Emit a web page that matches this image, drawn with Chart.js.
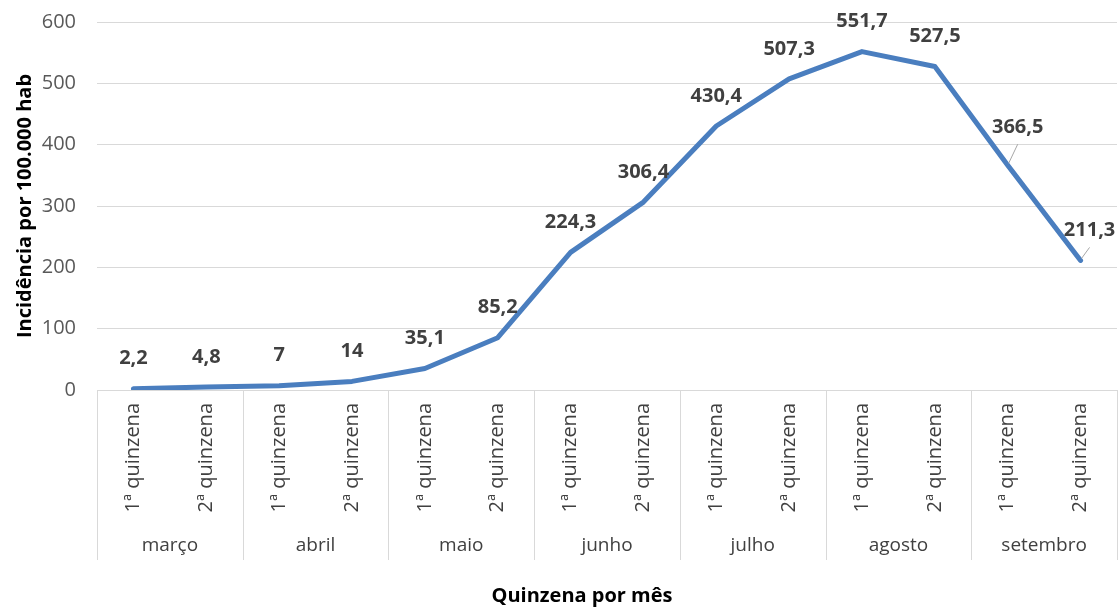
<!DOCTYPE html>
<html>
<head>
<meta charset="utf-8">
<script src="https://cdn.jsdelivr.net/npm/chart.js@4.4.1/dist/chart.umd.min.js"></script>
<style>
  html, body { margin: 0; padding: 0; background: #fff; }
  #wrap { width: 1119px; height: 607px; position: relative; }
</style>
</head>
<body>
<div id="wrap"><canvas id="chart"></canvas></div>
<script>
// ─── Data ────────────────────────────────────────────────────────
const months = ['março', 'abril', 'maio', 'junho', 'julho', 'agosto', 'setembro'];
const halves = ['1ª quinzena', '2ª quinzena'];
const incidence = [2.2, 4.8, 7, 14, 35.1, 85.2, 224.3, 306.4, 430.4, 507.3, 551.7, 527.5, 366.5, 211.3];
const yMin = 0, yMax = 600, yStep = 100;

const yTitle = 'Incidência por 100.000 hab';
const xTitle = 'Quinzena por mês';

// category labels: [quinzena, mês]
const labels = [];
months.forEach(m => halves.forEach(h => labels.push([h, m])));

// ─── Styles ──────────────────────────────────────────────────────
const FONT = '"Open Sans", "Liberation Sans", sans-serif';
const GRID = '#d9d9d9';
const TICK = '#595959';
const LABEL = '#404040';

// labels moved off the line, with a leader line back to the point
const nudges = { 12: { dx: 10, dy: -8 }, 13: { dx: 9, dy: 0 } };

const valueLabels = {
  id: 'valueLabels',
  afterDatasetsDraw(chart) {
    const ctx = chart.ctx;
    const meta = chart.getDatasetMeta(0);
    ctx.save();
    ctx.font = 'bold 20px ' + FONT;
    ctx.fillStyle = LABEL;
    ctx.textAlign = 'center';
    ctx.textBaseline = 'middle';
    meta.data.forEach((pt, i) => {
      const n = nudges[i] || { dx: 0, dy: 0 };
      const lx = pt.x + n.dx, ly = pt.y - 30 + n.dy;
      if (nudges[i]) {
        ctx.strokeStyle = '#a6a6a6';
        ctx.lineWidth = 1;
        ctx.beginPath();
        ctx.moveTo(lx, ly + 17);
        ctx.lineTo(pt.x + 1, pt.y - 2);
        ctx.stroke();
      }
      ctx.fillText(String(incidence[i]).replace('.', ','), lx, ly);
    });
    ctx.restore();
  }
};

// two-level category axis drawn by hand
const groupAxis = {
  id: 'groupAxis',
  afterDraw(chart) {
    const ctx = chart.ctx;
    const x = chart.scales.x;
    const area = chart.chartArea;
    const half = (x.getPixelForValue(1) - x.getPixelForValue(0)) / 2;
    ctx.save();

    // separators
    ctx.strokeStyle = GRID;
    ctx.lineWidth = 1;
    for (let m = 0; m <= months.length; m++) {
      const px = Math.round(x.getPixelForValue(m * halves.length) - half) + 0.5;
      ctx.beginPath();
      ctx.moveTo(px, area.bottom);
      ctx.lineTo(px, 560);
      ctx.stroke();
    }

    // quinzena labels (rotated)
    ctx.fillStyle = LABEL;
    ctx.font = '20px ' + FONT;
    ctx.textAlign = 'right';
    ctx.textBaseline = 'middle';
    labels.forEach((l, i) => {
      ctx.save();
      ctx.translate(x.getPixelForValue(i), area.bottom + 13);
      ctx.rotate(-Math.PI / 2);
      ctx.fillText(l[0], 0, 0);
      ctx.restore();
    });

    // month labels
    ctx.textAlign = 'center';
    ctx.font = '19px ' + FONT;
    months.forEach((m, k) => {
      const px = (x.getPixelForValue(k * 2) + x.getPixelForValue(k * 2 + 1)) / 2;
      ctx.fillText(m, px, 546);
    });

    // axis title
    ctx.fillStyle = '#000';
    ctx.font = 'bold 20px ' + FONT;
    ctx.fillText(xTitle, 582, 596);
    ctx.restore();
  }
};

new Chart(document.getElementById('chart'), {
  type: 'line',
  data: {
    labels: labels,
    datasets: [{
      data: incidence,
      borderColor: '#4a7ebf',
      borderWidth: 5,
      borderJoinStyle: 'round',
      borderCapStyle: 'round',
      pointRadius: 0,
      tension: 0,
      fill: false
    }]
  },
  options: {
    responsive: true,
    maintainAspectRatio: false,
    animation: false,
    layout: { padding: { top: 22, right: 2, left: 0, bottom: 0 } },
    plugins: { legend: { display: false }, tooltip: { enabled: false } },
    scales: {
      x: {
        offset: true,
        grid: { display: false },
        border: { display: false },
        ticks: { display: false },
        afterFit: s => { s.height = 217; }
      },
      y: {
        min: yMin,
        max: yMax,
        ticks: {
          stepSize: yStep,
          padding: 21,
          color: TICK,
          font: { family: FONT, size: 20 }
        },
        grid: { color: GRID, lineWidth: 1, drawTicks: false },
        border: { display: false },
        title: {
          display: true,
          text: yTitle,
          color: '#000',
          font: { family: FONT, size: 20, weight: 'bold' },
          padding: { top: 13 }
        },
        afterFit: s => { s.width = 97; s.paddingTop = 0; s.paddingBottom = 0; }
      }
    }
  },
  plugins: [valueLabels, groupAxis]
});
</script>
</body>
</html>
